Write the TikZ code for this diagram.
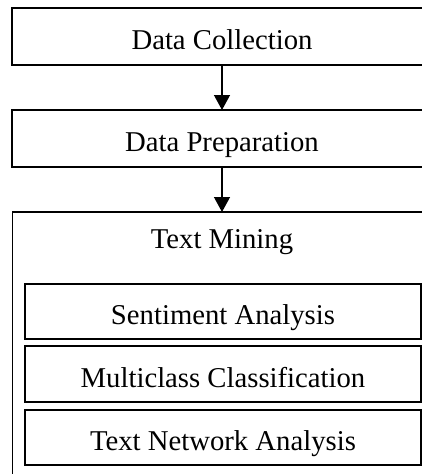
\documentclass[tikz,border=0pt]{standalone}
\usepackage{fontspec}
\setmainfont{Liberation Serif}
\usetikzlibrary{arrows.meta}
\begin{document}
\begin{tikzpicture}[x=1pt,y=-1pt,
  box/.style={draw=black,line width=1.3pt,rectangle,inner sep=0pt,outer sep=0pt,
    minimum width=420pt,minimum height=57pt,text height=25pt,text depth=0pt,
    font=\fontsize{28.7}{34}\selectfont},
  inbox/.style={box,minimum width=396pt},
  arr/.style={line width=1.3pt,-{Triangle[width=16pt,length=15pt]}},
  lbl/.style={inner sep=0pt,anchor=base,font=\fontsize{28.7}{34}\selectfont}]
\useasboundingbox (0,0) rectangle (422,474);
\clip (0,0) rectangle (422,474);
\node[box] (dc) at (222,36.5) {Data Collection};
\node[box] (dp) at (222,138.5) {Data Preparation};
\node[box,minimum width=419.5pt,minimum height=278pt,text height=0pt] (tm) at (222.25,351) {};
\node[lbl] (tml) at (222,248) {Text Mining};
\node[inbox,minimum height=55pt] (sa) at (223,311.5) {Sentiment Analysis};
\node[inbox,minimum height=56pt,text height=26pt] (mc) at (223,374) {Multiclass Classification};
\node[inbox,minimum height=55pt] (tn) at (223,437.5) {Text Network Analysis};
\draw[arr] (dc.south -| 222,0) -- (dp.north -| 222,0);
\draw[arr] (dp.south -| 222,0) -- (tm.north -| 222,0);
\end{tikzpicture}
\end{document}
